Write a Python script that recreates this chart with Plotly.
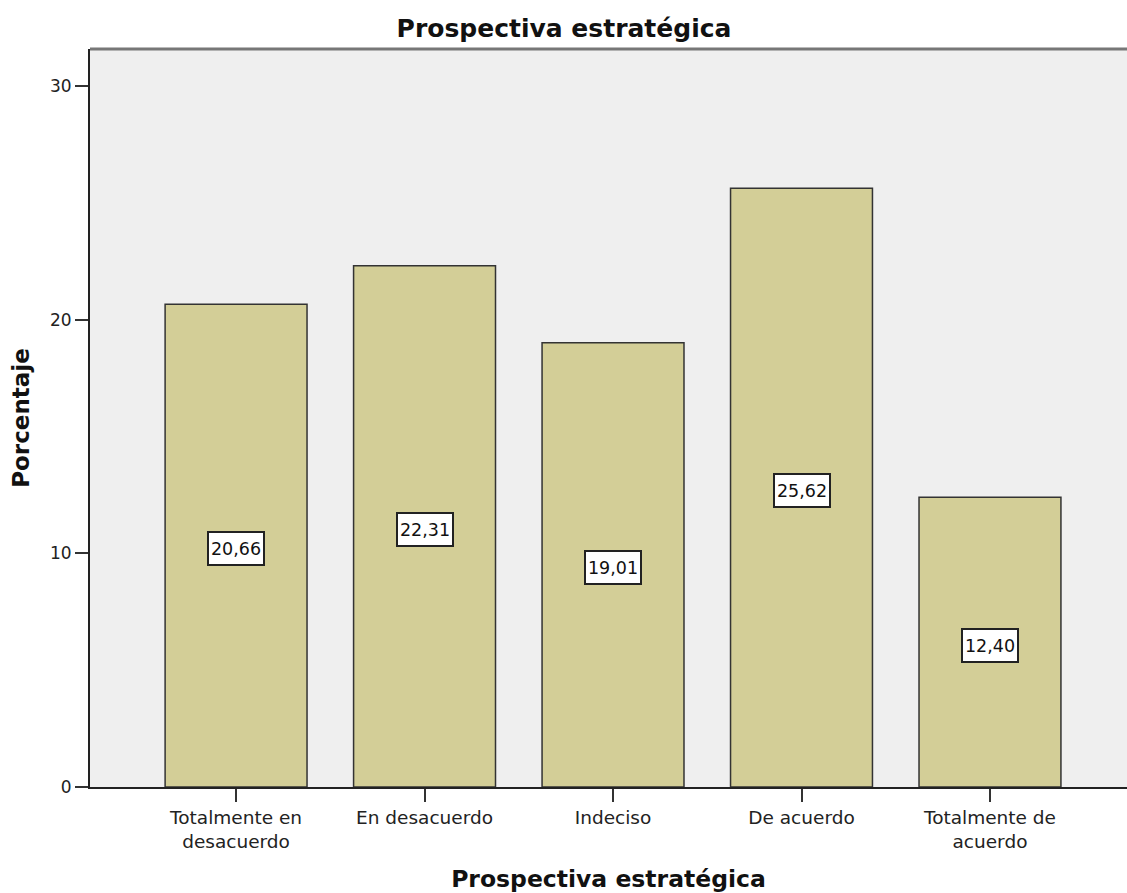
import plotly.graph_objects as go

categories = ["Totalmente en<br>desacuerdo", "En desacuerdo", "Indeciso", "De acuerdo", "Totalmente de<br>acuerdo"]
values = [20.66, 22.31, 19.01, 25.62, 12.40]
labels = ["20,66", "22,31", "19,01", "25,62", "12,40"]
xpos = [0, 1, 2, 3, 4]

FONT = "DejaVu Sans"

fig = go.Figure()
fig.add_trace(go.Bar(
    x=xpos, y=values, width=0.753,
    marker=dict(color="#D3CE97", line=dict(color="#333333", width=1.5)),
    hoverinfo="skip",
))

for xi, v, lab in zip(xpos, values, labels):
    fig.add_annotation(
        x=xi, y=v / 2, yshift=-3, text=lab, showarrow=False,
        font=dict(family=FONT, size=17.5, color="#111111"),
        width=52, height=29, align="center", valign="middle",
        bgcolor="white", bordercolor="#222222", borderwidth=2, borderpad=1,
    )

fig.update_layout(
    width=1127, height=893,
    margin=dict(l=90, r=0, t=49, b=106),
    paper_bgcolor="white", plot_bgcolor="#EFEFEF",
    showlegend=False,
    title=dict(text="<b>Prospectiva estratégica</b>", x=(397 + 731) / 2 / 1127, xanchor="center", xref="container",
               y=1 - 28 / 893, yanchor="middle", yref="container",
               font=dict(family=FONT, size=25, color="#111111")),
    font=dict(family=FONT, size=18, color="#222222"),
)
fig.update_xaxes(
    range=[-0.775, 4.727], tickmode="array", tickvals=xpos, ticktext=categories,
    ticks="outside", ticklen=13, tickwidth=2, tickcolor="#333333",
    showline=True, linecolor="#222222", linewidth=2, showgrid=False, zeroline=False,
    tickfont=dict(family=FONT, size=18.5, color="#222222"),
    title=dict(text="<b>Prospectiva estratégica</b>", standoff=22,
               font=dict(family=FONT, size=23.5, color="#111111")),
)
fig.update_yaxes(
    range=[0, 31.58], tickvals=[0, 10, 20, 30], ticktext=["0", "10", "20", "30"],
    ticks="outside", ticklen=13, tickwidth=2, tickcolor="#333333",
    showline=True, linecolor="#222222", linewidth=2, showgrid=False, zeroline=False,
    tickfont=dict(family=FONT, size=17, color="#222222"),
    title=dict(text="<b>Porcentaje</b>", standoff=14,
               font=dict(family=FONT, size=23, color="#111111")),
)
fig.add_shape(type="line", xref="paper", yref="paper", x0=0, x1=1, y0=1, y1=1,
              line=dict(color="#777777", width=3))

fig.write_html("out.html")
